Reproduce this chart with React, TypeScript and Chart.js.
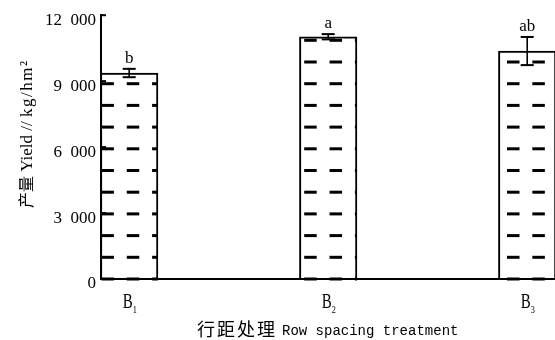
import React, { useEffect, useRef } from 'react';
import { Chart, registerables } from 'chart.js';

Chart.register(...registerables);

// ---- data ----
const categoryLetters = ['B', 'B', 'B'];
const categorySubscripts = ['1', '2', '3'];
const yieldMeans = [9370, 11020, 10370];
const yieldErrors = [190, 120, 640];
const sigLetters = ['b', 'a', 'ab'];
const yMin = 0;
const yMax = 12000;
const yStep = 3000;
const yTitleCn = '产量';
const yTitleEn = ' Yield // ';
const yTitleUnit = 'kg/hm²';
const xTitleCn = '行距处理';
const xTitleEn = 'Row spacing treatment';

const X_MIN = -0.1417;
const X_MAX = categoryLetters.length - 1 + 0.1397;

function formatTick(v: number): string {
  if (v === 0) return '0';
  const th = Math.floor(v / 1000);
  const rest = String(v % 1000).padStart(3, '0');
  return `${th}  ${rest}`;
}

const decorPlugin = {
  id: 'decor',
  beforeDraw(chart: any) {
    const ctx = chart.ctx;
    ctx.save();
    ctx.fillStyle = '#fff';
    ctx.fillRect(0, 0, chart.width, chart.height);
    ctx.restore();
  },
  afterDatasetsDraw(chart: any) {
    const ctx = chart.ctx;
    const meta = chart.getDatasetMeta(0);
    const ys = chart.scales.y;
    const area = chart.chartArea;
    const rowStep = 21.7;
    const colStep = 25.35;
    const dashLen = 12.5;
    const dashH = 3;
    meta.data.forEach((bar: any, i: number) => {
      const p = bar.getProps(['x', 'y', 'base', 'width'], true);
      const left = p.x - p.width / 2;
      const right = p.x + p.width / 2;
      ctx.save();
      ctx.beginPath();
      ctx.rect(left, p.y, p.width, p.base - p.y + 2);
      ctx.clip();
      ctx.fillStyle = '#000';
      for (let py = p.base; py >= p.y - dashH; py -= rowStep) {
        for (let k = Math.floor(left / colStep) - 1; k * colStep <= right; k++) {
          ctx.fillRect(k * colStep, py - dashH / 2, dashLen, dashH);
        }
      }
      ctx.restore();
    });
    // redraw x axis line over bar fills
    ctx.save();
    ctx.fillStyle = '#000';
    ctx.fillRect(area.left - 1, area.bottom - 1, area.right - area.left + 1, 2);
    ctx.restore();
    // error bars
    ctx.save();
    ctx.fillStyle = '#000';
    meta.data.forEach((bar: any, i: number) => {
      const p = bar.getProps(['x'], true);
      const hi = ys.getPixelForValue(yieldMeans[i] + yieldErrors[i]);
      const lo = ys.getPixelForValue(yieldMeans[i] - yieldErrors[i]);
      ctx.fillRect(p.x - 0.8, hi, 1.6, lo - hi);
      ctx.fillRect(p.x - 6.5, hi - 1, 13, 2);
      ctx.fillRect(p.x - 6.5, lo - 1, 13, 2);
    });
    ctx.restore();
  },
  afterDraw(chart: any) {
    const ctx = chart.ctx;
    const xs = chart.scales.x;
    const ys = chart.scales.y;
    const area = chart.chartArea;
    ctx.save();
    ctx.fillStyle = '#000';
    // inward y ticks
    ys.ticks.forEach((t: any) => {
      const py = ys.getPixelForValue(t.value);
      ctx.fillRect(area.left, py - 1, 5, 2);
    });
    // significance letters
    ctx.font = '17px "Liberation Serif"';
    ctx.textAlign = 'center';
    ctx.textBaseline = 'alphabetic';
    sigLetters.forEach((s, i) => {
      const px = xs.getPixelForValue(i);
      const hi = ys.getPixelForValue(yieldMeans[i] + yieldErrors[i]);
      ctx.fillText(s, px, hi - 6);
    });
    // category labels with subscripts
    ctx.textAlign = 'left';
    categoryLetters.forEach((c, i) => {
      const px = xs.getPixelForValue(i);
      ctx.save();
      ctx.translate(px - 6.5, 308);
      ctx.scale(0.68, 1);
      ctx.font = '22px "Liberation Serif"';
      ctx.fillText(c, 0, 0);
      ctx.restore();
      ctx.save();
      ctx.translate(px + 3.5, 312.5);
      ctx.scale(0.75, 1);
      ctx.font = '11px "Liberation Serif"';
      ctx.fillText(categorySubscripts[i], 0, 0);
      ctx.restore();
    });
    // x title
    ctx.save();
    ctx.font = '18px "Noto Sans CJK SC"';
    (ctx as any).letterSpacing = '2px';
    ctx.fillText(xTitleCn, 197, 336);
    ctx.restore();
    ctx.font = '14px "Liberation Mono"';
    ctx.fillText(xTitleEn, 282, 335);
    // y title (rotated)
    ctx.save();
    ctx.translate(32, 208);
    ctx.rotate(-Math.PI / 2);
    ctx.font = '16px "Noto Sans CJK SC"';
    ctx.fillText(yTitleCn, 0, 0);
    let off = ctx.measureText(yTitleCn).width;
    ctx.font = '17px "Liberation Serif"';
    ctx.fillText(yTitleEn, off, 0);
    off += ctx.measureText(yTitleEn).width;
    (ctx as any).letterSpacing = '1.5px';
    ctx.fillText(yTitleUnit, off, 0);
    ctx.restore();
    ctx.restore();
  },
};

export default function App() {
  const ref = useRef<HTMLCanvasElement>(null);
  useEffect(() => {
    document.body.style.margin = '0';
    const chart = new Chart(ref.current as HTMLCanvasElement, {
      type: 'bar',
      data: {
        datasets: [
          {
            data: categoryLetters.map((_, i) => ({ x: i, y: yieldMeans[i] })),
            backgroundColor: '#fff',
            borderColor: '#000',
            borderWidth: 2,
            borderSkipped: 'start',
            barThickness: 57.5,
          } as any,
        ],
      },
      options: {
        responsive: false,
        animation: false,
        devicePixelRatio: 1,
        layout: { padding: { top: 15, right: 0, bottom: 0, left: 0 } },
        plugins: { legend: { display: false }, tooltip: { enabled: false } },
        scales: {
          x: {
            type: 'linear',
            min: X_MIN,
            max: X_MAX,
            offset: false,
            ticks: { display: false },
            grid: { display: false, drawTicks: false },
            border: { display: true, color: '#000', width: 2 },
            afterFit: (s: any) => {
              s.height = 61;
            },
          },
          y: {
            min: yMin,
            max: yMax,
            ticks: {
              stepSize: yStep,
              padding: 5,
              labelOffset: 5,
              color: '#000',
              font: { family: '"Liberation Serif"', size: 17 },
              callback: (v: any) => formatTick(Number(v)),
            },
            grid: { display: false, drawTicks: false },
            border: { display: true, color: '#000', width: 2 },
            afterFit: (s: any) => {
              s.width = 101;
            },
          },
        },
      } as any,
      plugins: [decorPlugin],
    });
    return () => chart.destroy();
  }, []);
  return (
    <div style={{ position: 'absolute', left: 0, top: 0, width: 555, height: 340 }}>
      <canvas ref={ref} width={555} height={340} style={{ display: 'block' }} />
    </div>
  );
}
